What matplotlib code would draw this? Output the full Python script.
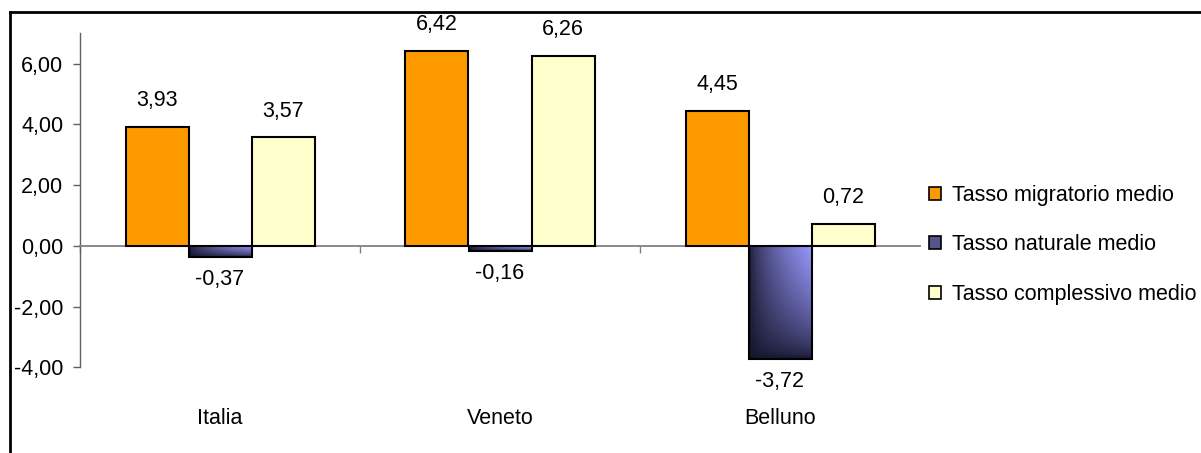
import matplotlib
matplotlib.use("Agg")
from matplotlib import pyplot
from matplotlib.patches import Patch
from matplotlib.lines import Line2D
import numpy as np

plt = pyplot
plt.rcParams['font.family'] = ['Liberation Sans', 'DejaVu Sans']
plt.rcParams['font.size'] = 15.5

categories = ['Italia', 'Veneto', 'Belluno']
series = ['Tasso migratorio medio', 'Tasso naturale medio', 'Tasso complessivo medio']
migratorio = [3.93, 6.42, 4.45]
naturale = [-0.37, -0.16, -3.72]
complessivo = [3.57, 6.26, 0.72]

W, H = 1201, 453
fig = plt.figure(figsize=(W / 100, H / 100), dpi=100)

# plot area in pixels: x 80..920, y 33..367
ax = fig.add_axes([80 / W, 1 - 367.3 / H, 840 / W, (367.3 - 33.3) / H])

def fmt(v):
    return ("%.2f" % v).replace('.', ',')

x = np.arange(len(categories)) + 0.5
bw = 0.225
dark = np.array([20, 20, 42]) / 255
light = np.array([153, 153, 255]) / 255

ax.bar(x - bw, migratorio, bw, color='#FF9900', edgecolor='black', linewidth=1.5, zorder=3)
nat_bars = ax.bar(x, naturale, bw, facecolor='none', edgecolor='black', linewidth=1.5, zorder=3)
ax.bar(x + bw, complessivo, bw, color='#FFFFCC', edgecolor='black', linewidth=1.5, zorder=3)

# gradient fill for the "naturale" bars
for b in nat_bars:
    x0, y0 = b.get_x(), b.get_y()
    w, h = b.get_width(), b.get_height()
    u = np.linspace(0, 1, 100)[None, :]
    vv = np.linspace(0, 1, 100)[:, None]
    t = (u * (1 - vv)) ** 0.6
    img = dark[None, None, :] * (1 - t[..., None]) + light[None, None, :] * t[..., None]
    top, bot = max(y0, y0 + h), min(y0, y0 + h)
    ax.imshow(img, extent=(x0, x0 + w, bot, top), origin='upper', aspect='auto',
              interpolation='bilinear', zorder=2)

for vals, off in [(migratorio, -bw), (naturale, 0), (complessivo, bw)]:
    for xi, v in zip(x, vals):
        dy = 19 if v >= 0 else -16.5
        ax.annotate(fmt(v), (xi + off, v), xytext=(0, dy), textcoords='offset points',
                    ha='center', va='center')

ax.set_xlim(0, 3)
ax.set_ylim(-4, 7)
ax.set_yticks([-4, -2, 0, 2, 4, 6])
ax.yaxis.set_major_formatter(lambda y, _: fmt(y))
ax.set_xticks([0, 1, 2])
ax.set_xticklabels([])

for s in ['top', 'right']:
    ax.spines[s].set_visible(False)
ax.spines['bottom'].set_position(('data', 0))
ax.spines['bottom'].set_color('#808080')
ax.spines['bottom'].set_linewidth(1.3)
ax.spines['left'].set_color('#606060')
ax.spines['left'].set_linewidth(1.0)
ax.tick_params(axis='y', direction='out', length=5, width=1, color='#606060', pad=7)
ax.tick_params(axis='x', direction='out', length=5, width=1, color='#808080')
ax.patch.set_alpha(0)

for xi, c in zip(x, categories):
    ax.text(xi, -0.152, c, transform=ax.get_xaxis_transform(), ha='center', va='center')

handles = [Patch(facecolor='#FF9900', edgecolor='black', linewidth=1.2),
           Patch(facecolor='#55558a', edgecolor='black', linewidth=1.2),
           Patch(facecolor='#FFFFCC', edgecolor='black', linewidth=1.2)]
fig.legend(handles, series, loc='center left', bbox_to_anchor=(929 / W, 1 - 245 / H),
           frameon=False, borderpad=0, borderaxespad=0, handlelength=0.56, handleheight=0.56,
           handletextpad=0.51, labelspacing=1.32)

# outer chart frame (top and left edges visible)
fig.add_artist(Line2D([10 / W, 1], [1 - 12 / H, 1 - 12 / H], transform=fig.transFigure, color='black', linewidth=2))
fig.add_artist(Line2D([10 / W, 10 / W], [1 - 12 / H, 0], transform=fig.transFigure, color='black', linewidth=2))

fig.savefig("out.png", dpi=100)
